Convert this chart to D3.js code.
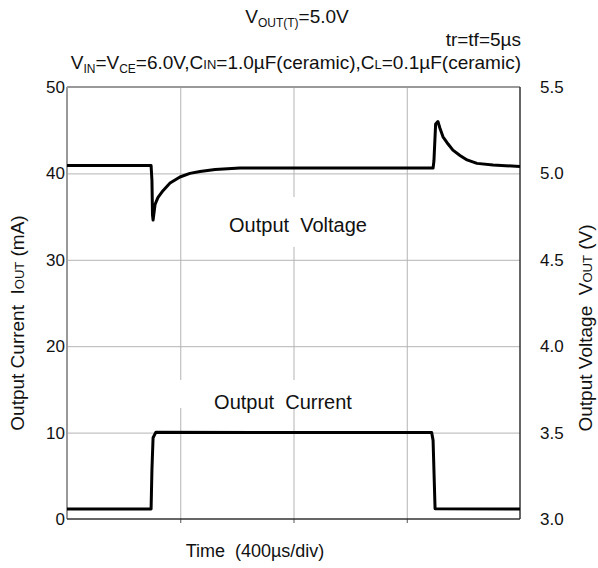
<!DOCTYPE html>
<html>
<head>
<meta charset="utf-8">
<script src="https://cdn.jsdelivr.net/npm/d3@7"></script>
<style>
  body { margin: 0; background: #fff; }
  svg { font-family: "Liberation Sans", Arial, sans-serif; }
</style>
</head>
<body>
<div class="visArea"></div>
<script>
// Time in microseconds (4 divisions of 400us)
var timeV = [0, 297, 300, 302, 304, 311, 321, 339, 364, 399, 434, 470, 523, 611, 820, 1100, 1293, 1296, 1302, 1310, 1317, 1328, 1346, 1363, 1388, 1413, 1448, 1505, 1600];
var voltage = [5.045, 5.045, 4.96, 4.76, 4.73, 4.82, 4.86, 4.90, 4.944, 4.979, 5.0, 5.011, 5.022, 5.031, 5.031, 5.031, 5.031, 5.072, 5.286, 5.30, 5.263, 5.212, 5.17, 5.135, 5.104, 5.078, 5.058, 5.049, 5.040];

var timeI = [0, 297, 300, 304, 314, 700, 1288, 1293, 1300, 1600];
var current = [1.15, 1.15, 5.7, 9.4, 10.05, 10.0, 10.0, 9.1, 1.2, 1.15];

var currentTicks = [0, 10, 20, 30, 40, 50];
var voltageTicks = [3.0, 3.5, 4.0, 4.5, 5.0, 5.5];
var timeTicks = [400, 800, 1200];

// Set up size
var width = 598;
var height = 568;
var plotLeft = 67, plotRight = 520, plotTop = 87, plotBottom = 519;

var svg = d3.select('.visArea').append('svg')
  .attr('width', width)
  .attr('height', height);

var x = d3.scaleLinear().domain([0, 1600]).range([plotLeft, plotRight]);
var yI = d3.scaleLinear().domain([0, 50]).range([plotBottom, plotTop]);
var yV = d3.scaleLinear().domain([3, 5.5]).range([plotBottom, plotTop]);

// gridlines
svg.append('g')
  .attr('transform', 'translate(0,' + plotBottom + ')')
  .call(d3.axisBottom(x).tickValues(timeTicks).tickSize(-(plotBottom - plotTop)).tickFormat(''))
  .call(g => g.select('.domain').remove())
  .call(g => g.selectAll('line').attr('stroke', '#b4b4b4').attr('stroke-width', 1));

svg.append('g')
  .attr('transform', 'translate(' + plotLeft + ',0)')
  .call(d3.axisLeft(yI).tickValues(currentTicks.slice(1, 5)).tickSize(-(plotRight - plotLeft)).tickFormat(''))
  .call(g => g.select('.domain').remove())
  .call(g => g.selectAll('line').attr('stroke', '#b4b4b4').attr('stroke-width', 1));

// little ticks under the bottom axis
svg.append('g')
  .attr('transform', 'translate(0,' + plotBottom + ')')
  .call(d3.axisBottom(x).tickValues(timeTicks).tickSize(4).tickFormat(''))
  .call(g => g.select('.domain').remove())
  .call(g => g.selectAll('line').attr('stroke', '#555'));

// white boxes behind the labels
svg.append('rect').attr('x', 212).attr('y', 197).attr('width', 172).attr('height', 50).attr('fill', '#fff');
svg.append('rect').attr('x', 172).attr('y', 380).attr('width', 200).attr('height', 28).attr('fill', '#fff');

// frame
svg.append('line').attr('x1', plotLeft).attr('x2', plotRight).attr('y1', plotTop).attr('y2', plotTop)
  .attr('stroke', '#999').attr('stroke-width', 2);
svg.append('line').attr('x1', plotLeft).attr('x2', plotLeft).attr('y1', plotTop).attr('y2', plotBottom)
  .attr('stroke', '#999').attr('stroke-width', 2);
svg.append('line').attr('x1', plotRight).attr('x2', plotRight).attr('y1', plotTop).attr('y2', plotBottom)
  .attr('stroke', '#333').attr('stroke-width', 1.5);
svg.append('line').attr('x1', plotLeft).attr('x2', plotRight).attr('y1', plotBottom).attr('y2', plotBottom)
  .attr('stroke', '#333').attr('stroke-width', 1.5);

// tick labels
svg.append('g')
  .attr('transform', 'translate(' + plotLeft + ',0)')
  .call(d3.axisLeft(yI).tickValues(currentTicks).tickSize(0).tickPadding(2).tickFormat(d3.format('d')))
  .call(g => g.select('.domain').remove())
  .call(g => g.selectAll('text').attr('font-size', 17).attr('fill', '#111')
    .attr('font-family', '"Liberation Sans", Arial, sans-serif'));

svg.append('g')
  .attr('transform', 'translate(' + plotRight + ',0)')
  .call(d3.axisRight(yV).tickValues(voltageTicks).tickSize(0).tickPadding(20).tickFormat(d3.format('.1f')))
  .call(g => g.select('.domain').remove())
  .call(g => g.selectAll('text').attr('font-size', 17).attr('fill', '#111')
    .attr('font-family', '"Liberation Sans", Arial, sans-serif'));

// traces
var lineV = d3.line().x((d, i) => x(timeV[i])).y(d => yV(d));
var lineI = d3.line().x((d, i) => x(timeI[i])).y(d => yI(d));

svg.append('path').datum(voltage)
  .attr('d', lineV)
  .attr('fill', 'none').attr('stroke', '#000').attr('stroke-width', 3)
  .attr('stroke-linejoin', 'round');

svg.append('path').datum(current)
  .attr('d', lineI)
  .attr('fill', 'none').attr('stroke', '#000').attr('stroke-width', 3)
  .attr('stroke-linejoin', 'round');

// annotations
svg.append('text').attr('x', 298).attr('y', 232).attr('text-anchor', 'middle')
  .attr('font-size', 20).attr('fill', '#111').attr('xml:space', 'preserve')
  .text('Output  Voltage');
svg.append('text').attr('x', 283).attr('y', 409).attr('text-anchor', 'middle')
  .attr('font-size', 20).attr('fill', '#111').attr('xml:space', 'preserve')
  .text('Output  Current');

// titles
var t1 = svg.append('text').attr('x', 297).attr('y', 23).attr('text-anchor', 'middle')
  .attr('font-size', 19).attr('fill', '#111');
t1.append('tspan').text('V');
t1.append('tspan').attr('font-size', 12).attr('dy', 4).text('OUT(T)');
t1.append('tspan').attr('dy', -4).text('=5.0V');

svg.append('text').attr('x', 521).attr('y', 46).attr('text-anchor', 'end')
  .attr('font-size', 19).attr('fill', '#111').text('tr=tf=5µs');

var t3 = svg.append('text').attr('x', 521).attr('y', 69).attr('text-anchor', 'end')
  .attr('font-size', 19).attr('fill', '#111');
t3.append('tspan').text('V');
t3.append('tspan').attr('font-size', 12).attr('dy', 4).text('IN');
t3.append('tspan').attr('dy', -4).text('=V');
t3.append('tspan').attr('font-size', 12).attr('dy', 4).text('CE');
t3.append('tspan').attr('dy', -4).text('=6.0V,C');
t3.append('tspan').attr('font-size', 13).text('IN');
t3.append('tspan').text('=1.0µF(ceramic),C');
t3.append('tspan').attr('font-size', 13).text('L');
t3.append('tspan').text('=0.1µF(ceramic)');

// axis titles
svg.append('text').attr('x', 255).attr('y', 557).attr('text-anchor', 'middle')
  .attr('font-size', 18).attr('fill', '#111').attr('xml:space', 'preserve')
  .text('Time  (400µs/div)');

var yl = svg.append('text').attr('transform', 'translate(24,323) rotate(-90)')
  .attr('text-anchor', 'middle').attr('font-size', 19).attr('fill', '#111')
  .attr('xml:space', 'preserve');
yl.append('tspan').text('Output Current  I');
yl.append('tspan').attr('font-size', 13).text('OUT');
yl.append('tspan').text(' (mA)');

var yr = svg.append('text').attr('transform', 'translate(592,328) rotate(-90)')
  .attr('text-anchor', 'middle').attr('font-size', 19).attr('fill', '#111')
  .attr('xml:space', 'preserve');
yr.append('tspan').text('Output Voltage  V');
yr.append('tspan').attr('font-size', 13).text('OUT');
yr.append('tspan').text(' (V)');
</script>
</body>
</html>
